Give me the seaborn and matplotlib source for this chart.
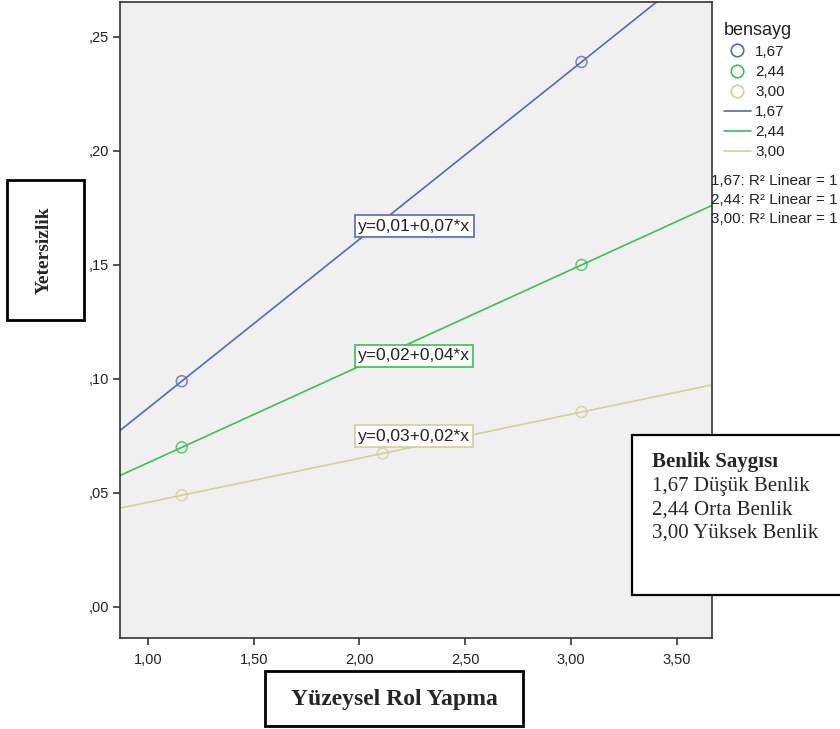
import numpy as np
import pandas as pd
import matplotlib
matplotlib.use("Agg")
import matplotlib.pyplot as plt
import seaborn as sns
from matplotlib.lines import Line2D
from matplotlib.patches import Rectangle
from matplotlib.ticker import FuncFormatter

# data
groups = ["1,67", "2,44", "3,00"]
rol_yapma = [1.16, 2.11, 3.05]
yetersizlik = {
    "1,67": [0.099, 0.1694, 0.239],
    "2,44": [0.070, 0.1102, 0.150],
    "3,00": [0.049, 0.0673, 0.0855],
}
equations = ["y=0,01+0,07*x", "y=0,02+0,04*x", "y=0,03+0,02*x"]
colors = ["#5468B8", "#3CBF55", "#D4CD9C"]

rows = []
for g in groups:
    for xv, yv in zip(rol_yapma, yetersizlik[g]):
        rows.append({"bensayg": g, "rol": xv, "yet": yv})
df = pd.DataFrame(rows)

sns.set_style("white")
plt.rcParams["font.family"] = ["Liberation Sans", "DejaVu Sans"]

W, H = 840, 729
fig = plt.figure(figsize=(8.4, 7.29), dpi=100)
ax = fig.add_axes([120 / W, 1 - 638 / H, 592 / W, 636 / H])
ax.set_facecolor("#F0F0F0")
ax.set_xlim(0.868, 3.667)
ax.set_ylim(-0.0136, 0.2653)

for g, c in zip(groups, colors):
    sub = df[df["bensayg"] == g]
    sns.regplot(data=sub, x="rol", y="yet", ax=ax, ci=None, truncate=False,
                color=c, marker="o",
                scatter_kws={"facecolors": "none", "edgecolors": c, "s": 62, "linewidths": 1.1},
                line_kws={"lw": 1.2})

ax.set_xlim(0.868, 3.667)
ax.set_ylim(-0.0136, 0.2653)
ax.set_xticks([1.0, 1.5, 2.0, 2.5, 3.0, 3.5])
ax.set_yticks([0.0, 0.05, 0.10, 0.15, 0.20, 0.25])


def yfmt(v, pos):
    s = f"{v:.2f}".replace(".", ",")
    return s[1:] if s.startswith("0") else s


ax.yaxis.set_major_formatter(FuncFormatter(yfmt))
ax.xaxis.set_major_formatter(FuncFormatter(lambda v, p: f"{v:.2f}".replace(".", ",")))
ax.tick_params(direction="out", length=5, width=1.2, color="#333333",
               labelsize=10.5, labelcolor="#222222", bottom=True, left=True, pad=3)
ax.tick_params(axis="x", pad=6)
ax.set_xlabel("")
ax.set_ylabel("")
for sp in ax.spines.values():
    sp.set_color("#333333")
    sp.set_linewidth(1.2)

# equation labels
eq_y = [226, 356, 436]
for txt, c, yy in zip(equations, colors, eq_y):
    fig.text(358 / W, 1 - yy / H, txt, fontsize=12.5, color="#222222", va="center", ha="left",
             bbox=dict(boxstyle="square,pad=0.2", fc="white", ec=c, lw=1.2), zorder=5)

# legend
handles = [Line2D([], [], marker="o", ls="", mfc="none", mec=c, ms=9, mew=1.2) for c in colors]
handles += [Line2D([], [], color=c, lw=1.2) for c in colors]
leg = ax.legend(handles, groups + groups, title="bensayg", loc="upper left",
                bbox_to_anchor=(716 / W, 1 - 14 / H), bbox_transform=fig.transFigure,
                frameon=False, fontsize=11, title_fontsize=13, alignment="left",
                handlelength=1.8, handletextpad=0.25, labelspacing=0.4, borderpad=0)
for t in leg.get_texts():
    t.set_color("#222222")
leg.get_title().set_color("#222222")

for g, yy in zip(groups, [181, 200, 219]):
    fig.text(711 / W, 1 - yy / H, f"{g}: R² Linear = 1", fontsize=11, color="#222222", va="center")

# annotation boxes
serif = ["Liberation Serif", "DejaVu Serif"]
fig.patches.append(Rectangle((7 / W, 1 - 320 / H), 77 / W, 140 / H, transform=fig.transFigure,
                             fill=False, ec="black", lw=2))
fig.text(44 / W, 1 - 250 / H, "Yetersizlik", rotation=90, ha="center", va="center",
         fontsize=14, fontweight="bold", family=serif)

fig.patches.append(Rectangle((265 / W, 1 - 726 / H), 258 / W, 55 / H, transform=fig.transFigure,
                             fill=False, ec="black", lw=2))
fig.text(394 / W, 1 - 699 / H, "Yüzeysel Rol Yapma", ha="center", va="center",
         fontsize=17, fontweight="bold", family=serif)

fig.patches.append(Rectangle((632 / W, 1 - 595 / H), 210 / W, 160 / H, transform=fig.transFigure,
                             fc="white", ec="black", lw=1.6, zorder=4))
fig.text(652 / W, 1 - 462 / H, "Benlik Saygısı", fontsize=15, fontweight="bold", family=serif,
         va="center", zorder=5)
for line, yy in zip(["1,67 Düşük Benlik", "2,44 Orta Benlik", "3,00 Yüksek Benlik"], [487, 510, 533]):
    fig.text(652 / W, 1 - yy / H, line, fontsize=15, family=serif, va="center", zorder=5)

fig.savefig("out.png", dpi=100)
